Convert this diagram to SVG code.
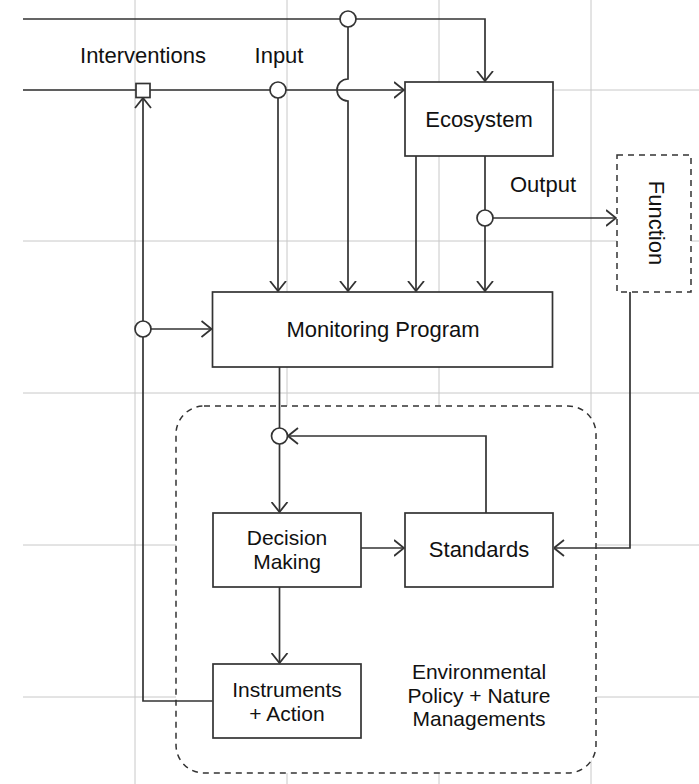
<svg xmlns="http://www.w3.org/2000/svg" width="699" height="784" viewBox="0 0 699 784">
<style>
.grid{stroke:#c8c8c8;stroke-width:1;fill:none}
.box{fill:#fff;stroke:#333;stroke-width:1.7}
.dash{fill:#fff;stroke:#333;stroke-width:1.5;stroke-dasharray:6 5}
.ln{fill:none;stroke:#333;stroke-width:1.7}
.arr{marker-end:url(#ah)}
.jn{fill:#fff;stroke:#333;stroke-width:1.7}
text{font-family:"Liberation Sans",Arial,sans-serif;font-size:22px;fill:#111;text-anchor:middle}
text.ml{font-size:21px}
</style>
<defs>
<marker id="ah" markerUnits="userSpaceOnUse" viewBox="0 0 11 18" refX="10.5" refY="9" markerWidth="11" markerHeight="18" orient="auto">
<path d="M0.5,1 L10.5,9 L0.5,17" fill="none" stroke="#333" stroke-width="1.8"/>
</marker>
</defs>
<g id="grid">
<path class="grid" d="M135,0V784M287,0V784M439,0V784M591,0V784M23,90H699M23,241H699M23,393H699M23,545H699M23,697H699"/>
</g>
<g id="policy">
<rect class="dash" x="176" y="406" width="420" height="367" rx="28"/>
<text class="ml" x="479" y="679">Environmental</text>
<text class="ml" x="479" y="702.5">Policy + Nature</text>
<text class="ml" x="479" y="726">Managements</text>
</g>
<g id="ecosystem">
<rect class="box" x="405" y="82" width="148" height="74"/>
<text x="479" y="127">Ecosystem</text>
</g>
<g id="function">
<rect class="dash" x="617" y="155" width="74" height="137"/>
<text transform="translate(657,223) rotate(90)" dy="0.35em">Function</text>
</g>
<g id="monitoring">
<rect class="box" x="212.5" y="292" width="340" height="75"/>
<text x="383" y="337">Monitoring Program</text>
</g>
<g id="decision">
<rect class="box" x="213" y="513" width="148" height="74"/>
<text class="ml" x="287" y="545">Decision</text>
<text class="ml" x="287" y="568.5">Making</text>
</g>
<g id="standards">
<rect class="box" x="405" y="513" width="148" height="74"/>
<text x="479" y="557">Standards</text>
</g>
<g id="instruments">
<rect class="box" x="213" y="664" width="148" height="74"/>
<text class="ml" x="287" y="697">Instruments</text>
<text class="ml" x="287" y="720.5">+ Action</text>
</g>
<g id="connectors">
<path class="ln arr" d="M23,19H485V81"/>
<path class="ln arr" d="M348,19V79A11,11 0 0 0 348,101V291"/>
<path class="ln arr" d="M23,90H404"/>
<path class="ln arr" d="M278,90V291"/>
<path class="ln arr" d="M416,156V291"/>
<path class="ln arr" d="M485,156V291"/>
<path class="ln arr" d="M485,218H616"/>
<path class="ln arr" d="M630,292V548H554"/>
<path class="ln arr" d="M212.5,701H143V98"/>
<path class="ln arr" d="M143,329H211.5"/>
<path class="ln arr" d="M279.5,367V512"/>
<path class="ln arr" d="M486,513V436H288"/>
<path class="ln arr" d="M361,548H404"/>
<path class="ln arr" d="M279.5,587V663"/>
<circle class="jn" cx="348" cy="19" r="8"/>
<circle class="jn" cx="278" cy="90" r="8"/>
<circle class="jn" cx="485" cy="218" r="8"/>
<circle class="jn" cx="143" cy="329" r="8"/>
<circle class="jn" cx="279.5" cy="436" r="8"/>
<rect class="jn" x="136" y="83.5" width="14" height="14" stroke-width="2"/>
</g>
<g id="labels">
<text x="143" y="63">Interventions</text>
<text x="279" y="63">Input</text>
<text x="543" y="192">Output</text>
</g>
</svg>
